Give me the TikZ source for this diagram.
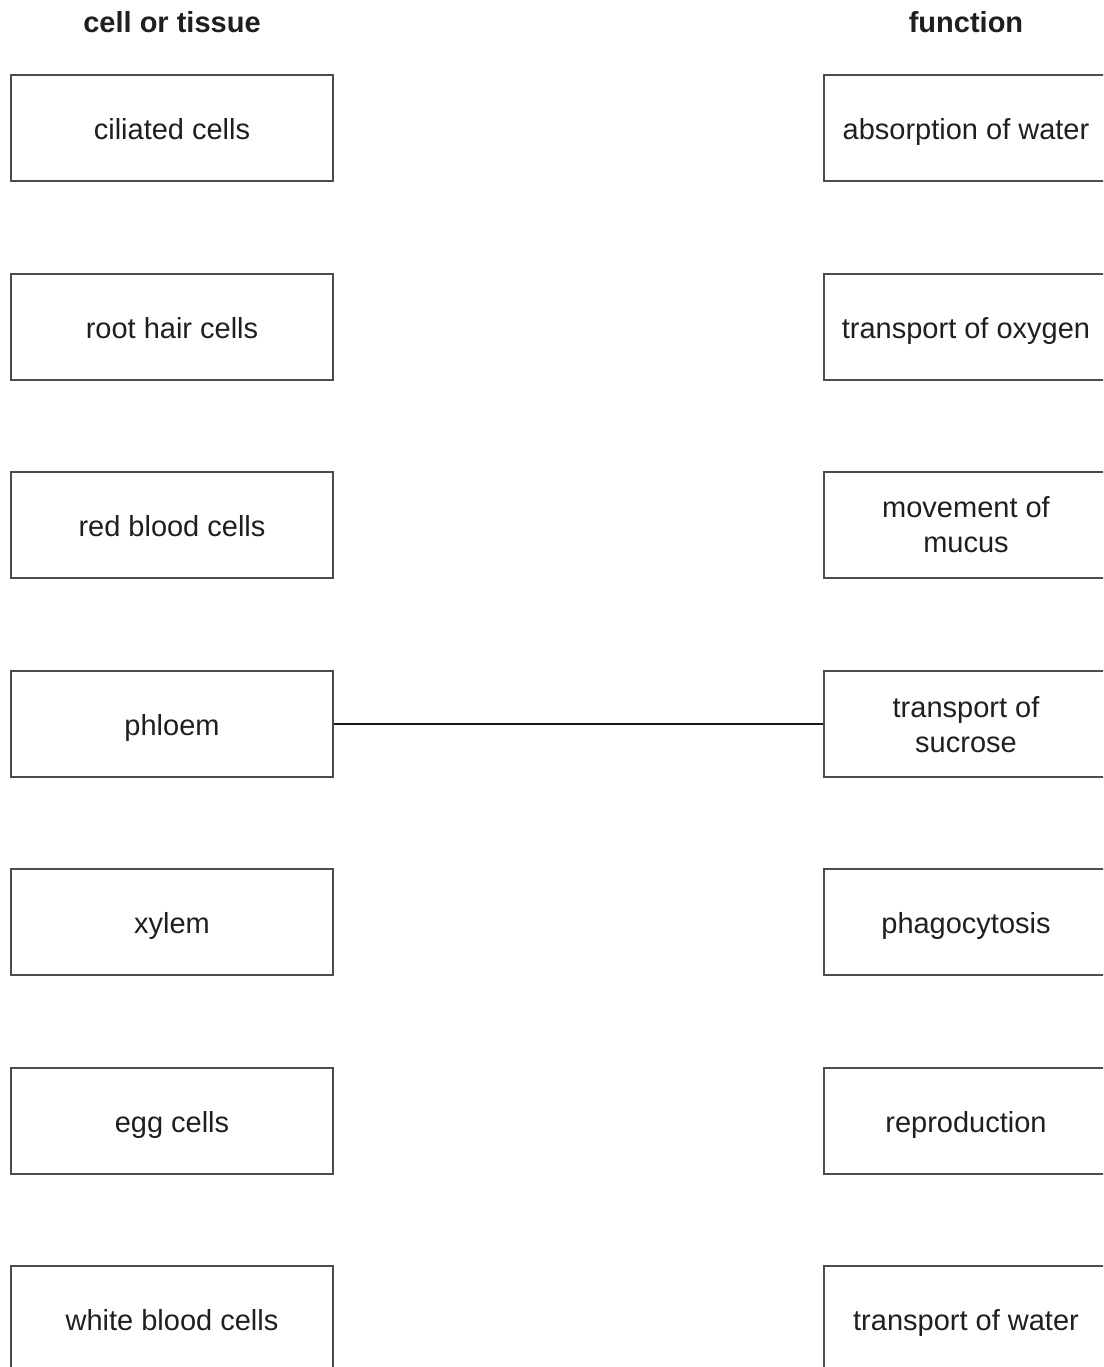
\documentclass[tikz,border=0pt]{standalone}
\usepackage{fontspec}
\setmainfont{Liberation Sans}
\begin{document}
\begin{tikzpicture}[x=1pt,y=-1pt,
  box/.style={draw=black!70, line width=1.2pt, minimum height=106pt, inner sep=0pt, align=center, text=black!88, font=\fontsize{29}{35}\selectfont},
  one/.style={text height=23pt, text depth=0pt},
  lbox/.style={box, one, minimum width=322pt},
  rbox/.style={box, one, minimum width=284pt},
  rbox2/.style={box, minimum width=284pt},
  head/.style={font=\fontsize{29}{35}\selectfont\bfseries, text=black!88},
  link/.style={line width=2.2pt, black!90}]
\clip (0,0) rectangle (1103,1367);
\useasboundingbox (0,0) rectangle (1103,1367);
\node[head] (h1) at (172,22) {cell or tissue};
\node[head] (h2) at (966,22) {function};
\node[lbox] (l1) at (172,128) {ciliated cells};
\node[lbox] (l2) at (172,327) {root hair cells};
\node[lbox] (l3) at (172,525) {red blood cells};
\node[lbox] (l4) at (172,724) {phloem};
\node[lbox] (l5) at (172,922) {xylem};
\node[lbox] (l6) at (172,1121) {egg cells};
\node[lbox] (l7) at (172,1319) {white blood cells};
\node[rbox] (r1) at (966,128) {absorption of water};
\node[rbox] (r2) at (966,327) {transport of oxygen};
\node[rbox2, text depth=0pt] (r3) at (966,525) {movement of\\mucus};
\node[rbox2, text depth=0pt] (r4) at (966,724) {transport of\\sucrose};
\node[rbox] (r5) at (966,922) {phagocytosis};
\node[rbox] (r6) at (966,1121) {reproduction};
\node[rbox] (r7) at (966,1319) {transport of water};
\draw[link] (l4.east) -- (r4.west);
\end{tikzpicture}
\end{document}
